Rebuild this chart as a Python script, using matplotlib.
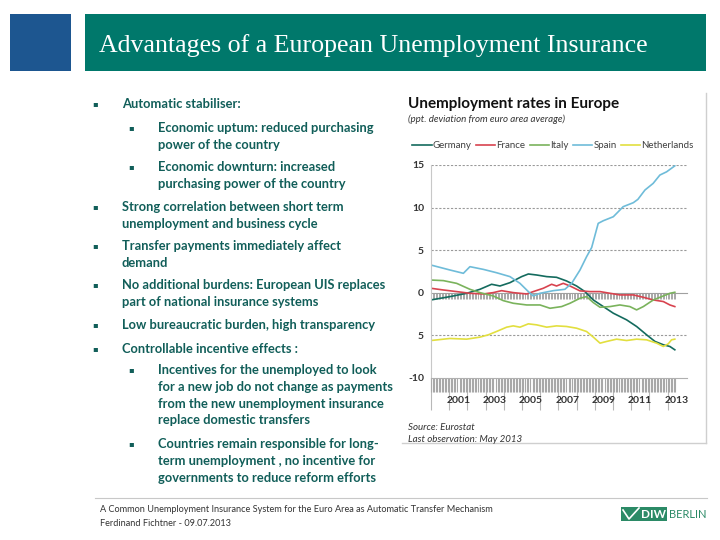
import numpy as np
import matplotlib
matplotlib.use("Agg")
import matplotlib.pyplot as plt
from matplotlib.patches import Rectangle
from matplotlib.lines import Line2D

# --- slide text ---
title = "Advantages of a European Unemployment Insurance"
bullets = [
    (1, ["Automatic stabiliser:"], 104),
    (2, ["Economic uptum: reduced purchasing", "power of the country"], 128),
    (2, ["Economic downturn: increased", "purchasing power of the country"], 167),
    (1, ["Strong correlation between short term", "unemployment and business cycle"], 207),
    (1, ["Transfer payments immediately affect", "demand"], 246),
    (1, ["No additional burdens: European UIS replaces", "part of national insurance systems"], 285),
    (1, ["Low bureaucratic burden, high transparency"], 325),
    (1, ["Controllable incentive effects :"], 349),
    (2, ["Incentives for the unemployed to look", "for a new job do not change as payments",
         "from the new unemployment insurance", "replace domestic transfers"], 370),
    (2, ["Countries remain responsible for long-", "term unemployment , no incentive for",
         "governments to reduce reform efforts"], 444),
]
footer_lines = ["A Common Unemployment Insurance System for the Euro Area as Automatic Transfer Mechanism",
                "Ferdinand Fichtner - 09.07.2013"]

# --- chart data (ppt. deviation from euro area average) ---
germany_x = [2000.0, 2001.04, 2001.96, 2002.69, 2003.33, 2003.79, 2004.34, 2004.98, 2005.35, 2005.81,
             2006.36, 2006.9, 2007.45, 2008.0, 2008.46, 2008.92, 2009.47, 2010.02, 2010.75, 2011.3,
             2011.85, 2012.31, 2012.77, 2013.13, 2013.4]
germany_y = [-0.86, -0.47, -0.08, 0.39, 0.98, 0.78, 1.17, 1.88, 2.19, 2.07,
             1.88, 1.8, 1.37, 0.78, 0.12, -0.86, -1.64, -2.42, -3.2, -3.98,
             -4.96, -5.74, -6.13, -6.33, -6.72]

france_x = [2000.0, 2000.68, 2001.41, 2002.14, 2002.88, 2003.42, 2003.88, 2004.52, 2005.26, 2005.62,
            2006.17, 2006.63, 2006.9, 2007.27, 2007.64, 2008.19, 2008.74, 2009.29, 2009.84, 2010.38,
            2011.12, 2011.67, 2012.22, 2012.77, 2013.13, 2013.4]
france_y = [0.51, 0.31, 0.12, -0.08, -0.16, 0.0, 0.23, 0.0, -0.16, 0.12,
            0.51, 0.98, 0.78, 1.09, 0.78, 0.2, 0.12, 0.12, -0.08, -0.27,
            -0.27, -0.55, -0.86, -1.05, -1.45, -1.64]

italy_x = [2000.0, 2000.68, 2001.41, 2002.14, 2002.69, 2003.42, 2003.97, 2004.52, 2005.26, 2005.99,
           2006.54, 2007.18, 2007.64, 2008.19, 2008.55, 2008.92, 2009.29, 2009.84, 2010.38, 2010.93,
           2011.3, 2011.67, 2012.22, 2012.77, 2013.13, 2013.4]
italy_y = [1.48, 1.41, 1.09, 0.39, 0.0, -0.39, -0.94, -1.25, -1.45, -1.45,
           -1.84, -1.64, -1.25, -0.66, -0.47, -1.17, -1.72, -1.64, -1.45, -1.64,
           -2.03, -1.64, -0.86, -0.39, -0.08, 0.04]

spain_x = [2000.0, 2001.04, 2001.78, 2002.14, 2002.88, 2003.6, 2004.34, 2004.89, 2005.35, 2005.62,
           2005.99, 2006.72, 2007.36, 2007.73, 2008.19, 2008.55, 2008.83, 2009.19, 2009.47, 2010.02,
           2010.38, 2010.56, 2011.12, 2011.37, 2011.76, 2012.21, 2012.58, 2012.95, 2013.4]
spain_y = [3.24, 2.66, 2.27, 3.05, 2.73, 2.34, 1.88, 1.09, 0.12, -0.39,
           -0.08, 0.23, 0.39, 1.09, 2.66, 4.22, 5.3, 8.14, 8.45, 8.92,
           9.7, 10.1, 10.57, 10.96, 12.06, 12.84, 13.82, 14.2, 14.9]

netherlands_x = [2000.0, 2001.04, 2001.96, 2002.69, 2003.15, 2003.6, 2004.16, 2004.52, 2004.89, 2005.35,
                 2005.81, 2006.36, 2006.9, 2007.45, 2008.0, 2008.55, 2008.92, 2009.29, 2009.65, 2010.2,
                 2010.75, 2011.3, 2011.85, 2012.4, 2012.77, 2013.04, 2013.22, 2013.4]
netherlands_y = [-5.63, -5.39, -5.47, -5.23, -4.96, -4.57, -4.06, -3.91, -4.06, -3.67,
                 -3.79, -4.06, -3.91, -3.98, -4.18, -4.57, -5.23, -5.94, -5.74, -5.47,
                 -5.63, -5.47, -5.55, -5.94, -6.33, -6.02, -5.55, -5.47]

series_names = ["Germany", "France", "Italy", "Spain", "Netherlands"]
series_colors = ["#146b5e", "#d8434f", "#7ab35c", "#6fbcd9", "#e2df3f"]

ytick_vals = [-10, -5, 0, 5, 10, 15]
ytick_labels = ["-10", "5", "0", "5", "10", "15"]
year_labels = [2001, 2003, 2005, 2007, 2009, 2011, 2013]

TEAL = "#115e59"
W, H = 720, 540


def fx(x):
    return x / W


def fy(y):
    return 1 - y / H


fig = plt.figure(figsize=(7.2, 5.4), dpi=100)
fig.patch.set_facecolor("white")

# --- header ---
fig.patches.append(Rectangle((fx(10), fy(71)), 61 / W, 57 / H, transform=fig.transFigure,
                             facecolor="#1d5690", edgecolor="none"))
fig.patches.append(Rectangle((fx(85), fy(71)), 621 / W, 57 / H, transform=fig.transFigure,
                             facecolor="#00786b", edgecolor="none"))
fig.text(fx(99), fy(46), title, color="white", fontsize=18.6, family="Liberation Serif",
         va="center", ha="left")

# --- bullet text ---
line_h = 16.8
for level, lines, y0 in bullets:
    bx = 95 if level == 1 else 131
    tx = 122 if level == 1 else 158
    fig.text(fx(bx), fy(y0), "\u25aa", color=TEAL, fontsize=6, family=["DejaVu Sans"],
             va="center", ha="center")
    for i, ln in enumerate(lines):
        fig.text(fx(tx), fy(y0 + i * line_h), ln, color=TEAL, fontsize=9.25, family=["Lato", "DejaVu Sans"],
                 fontweight="bold", va="center", ha="left")

# --- chart ---
fig.text(fx(408), fy(104), "Unemployment rates in Europe", fontsize=11, fontweight="bold",
         family=["Lato", "DejaVu Sans"], color="#111111", va="center", ha="left")
fig.text(fx(408), fy(119), "(ppt. deviation from euro area average)", fontsize=7, style="italic",
         family=["Lato", "DejaVu Sans"], color="#333333", va="center", ha="left")

ax = fig.add_axes([fx(431), fy(377.7), (687 - 431) / W, (377.7 - 165) / H])
xs = [germany_x, france_x, italy_x, spain_x, netherlands_x]
ys = [germany_y, france_y, italy_y, spain_y, netherlands_y]
for x, y, name, c in zip(xs, ys, series_names, series_colors):
    ax.plot(x, y, color=c, lw=1.2, label=name)

ax.set_xlim(2000, 2014.07)
ax.set_ylim(-10, 15)
for v in [-5, 5, 10, 15]:
    ax.axhline(v, color="#9a9a9a", lw=0.8, ls=(0, (2, 1.5)), zorder=0)

for s in ["top", "right"]:
    ax.spines[s].set_visible(False)
ax.spines["left"].set_color("#c8c8c8")
ax.spines["bottom"].set_color("#b0b0b0")

ax.set_yticks(ytick_vals)
ax.set_yticklabels(ytick_labels)
ax.tick_params(axis="y", length=0, pad=5, labelsize=7.5, labelcolor="#333333")
for t in ax.get_yticklabels():
    t.set_fontweight("bold")
    t.set_family(["Lato", "DejaVu Sans"])

months = np.arange(2000, 2013.42, 1 / 12)
ax.set_xticks([y + 0.5 for y in year_labels])
ax.set_xticklabels([str(y) for y in year_labels])
ax.set_xticks(months, minor=True)
ax.tick_params(axis="x", which="major", length=0, pad=13, labelsize=7.5, labelcolor="#333333")
ax.tick_params(axis="x", which="minor", length=10, width=0.8, color="#a8a8a8", direction="out")
for t in ax.get_xticklabels():
    t.set_fontweight("bold")
    t.set_family(["Lato", "DejaVu Sans"])

# year boundary ticks (long)
sec_b = ax.secondary_xaxis("bottom")
sec_b.set_xticks(np.arange(2000, 2014, 1))
sec_b.tick_params(length=23, width=0.8, color="#b8b8b8", labelbottom=False)
sec_b.spines["bottom"].set_visible(False)

# zero line with comb of month ticks
sec_0 = ax.secondary_xaxis(0.4)
sec_0.set_xticks([])
sec_0.set_xticks(months, minor=True)
sec_0.tick_params(which="minor", length=4, width=0.7, color="#a8a8a8")
sec_0.spines["bottom"].set_color("#a0a0a0")

leg = ax.legend(loc="center", bbox_to_anchor=(fx(553), fy(146)), bbox_transform=fig.transFigure,
                ncol=5, frameon=False, fontsize=7, handlelength=2.0, handletextpad=0.1,
                columnspacing=0.45, borderpad=0)
for t in leg.get_texts():
    t.set_color("#404040")
    t.set_family(["Lato", "DejaVu Sans"])

fig.text(fx(408), fy(427), "Source: Eurostat", fontsize=7, style="italic",
         family=["Lato", "DejaVu Sans"], color="#333333", va="center", ha="left")
fig.text(fx(408), fy(439), "Last observation: May 2013", fontsize=7, style="italic",
         family=["Lato", "DejaVu Sans"], color="#333333", va="center", ha="left")

# image frame (right and bottom edges)
fig.lines.append(Line2D([fx(706), fx(706)], [fy(93), fy(443)], transform=fig.transFigure,
                        color="#cfcfcf", lw=1))
fig.lines.append(Line2D([fx(402), fx(706)], [fy(443), fy(443)], transform=fig.transFigure,
                        color="#cfcfcf", lw=1))

# --- footer ---
fig.lines.append(Line2D([fx(95), fx(707)], [fy(498), fy(498)], transform=fig.transFigure,
                        color="#c8c8c8", lw=0.8))
fig.text(fx(100), fy(510), footer_lines[0], fontsize=6.6, family=["Lato", "DejaVu Sans"],
         color="#333333", va="center", ha="left")
fig.text(fx(100), fy(524), footer_lines[1], fontsize=6.6, family=["Lato", "DejaVu Sans"],
         color="#333333", va="center", ha="left")

# DIW logo
fig.patches.append(Rectangle((fx(621), fy(521)), 46 / W, 14 / H, transform=fig.transFigure,
                             facecolor="#2b8a66", edgecolor="none"))
fig.lines.append(Line2D([fx(623), fx(629), fx(639)], [fy(510), fy(519), fy(508)],
                        transform=fig.transFigure, color="white", lw=1.2))
fig.text(fx(653), fy(514.5), "DIW", fontsize=8.5, fontweight="bold", family=["Lato", "DejaVu Sans"],
         color="white", va="center", ha="center")
fig.text(fx(669), fy(514.5), "BERLIN", fontsize=8, family=["Lato", "DejaVu Sans"],
         color="#2b8a66", va="center", ha="left")

fig.savefig("out.png", dpi=100)
